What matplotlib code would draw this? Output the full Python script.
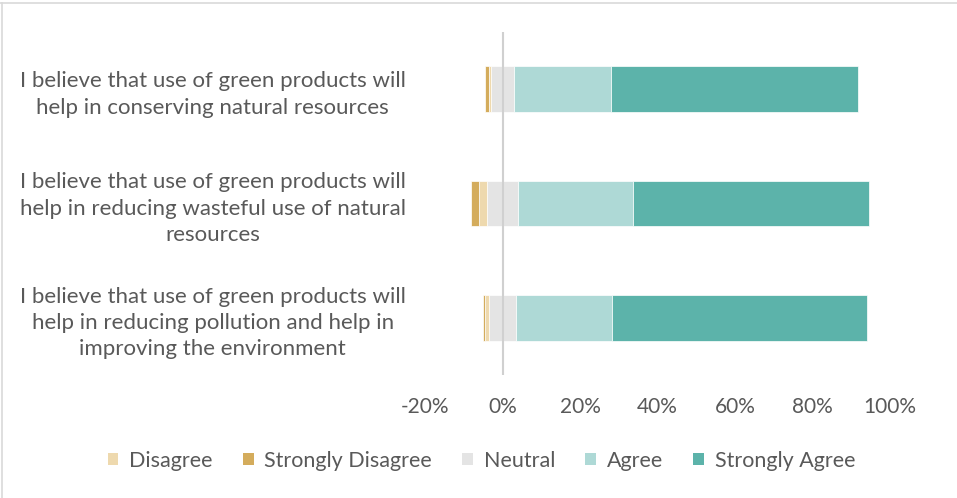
import matplotlib
matplotlib.use("Agg")
import matplotlib.pyplot as plt
from matplotlib.patches import Patch
import numpy as np

categories = [
    "I believe that use of green products will\nhelp in conserving natural resources",
    "I believe that use of green products will\nhelp in reducing wasteful use of natural\nresources",
    "I believe that use of green products will\nhelp in reducing pollution and help in\nimproving the environment",
]
disagree = [0.6, 2.1, 0.9]
strongly_disagree = [0.9, 2.1, 0.7]
neutral = [6.0, 7.8, 7.0]
agree = [25.0, 29.9, 24.8]
strongly_agree = [63.7, 60.8, 65.7]

series_names = ["Disagree", "Strongly Disagree", "Neutral", "Agree", "Strongly Agree"]
colors = {"Disagree": "#EED9AE", "Strongly Disagree": "#D4AC5C", "Neutral": "#E4E4E4",
          "Agree": "#AED9D6", "Strongly Agree": "#5CB3AA"}

plt.rcParams['font.family'] = ['Lato', 'DejaVu Sans']
text_color = "#595959"

fig = plt.figure(figsize=(9.57, 4.98), dpi=100)
ax = fig.add_axes([425/957, 1-375/498, (890-425)/957, (375-32)/498])

y = np.arange(len(categories))
h = 0.4
n = np.array(neutral)
d = np.array(disagree)
sd = np.array(strongly_disagree)
a = np.array(agree)
sa = np.array(strongly_agree)

kw = dict(height=h, edgecolor="white", linewidth=0.5)
ax.barh(y, n, left=-n/2, color=colors["Neutral"], **kw)
ax.barh(y, d, left=-n/2-d, color=colors["Disagree"], **kw)
ax.barh(y, sd, left=-n/2-d-sd, color=colors["Strongly Disagree"], **kw)
ax.barh(y, a, left=n/2, color=colors["Agree"], **kw)
ax.barh(y, sa, left=n/2+a, color=colors["Strongly Agree"], **kw)

ax.axvline(0, color="#D0D0D0", linewidth=1.5, zorder=5)
ax.set_xlim(-20, 100)
ax.set_ylim(len(categories)-0.5, -0.5)
ax.set_xticks([-20, 0, 20, 40, 60, 80, 100])
ax.set_xticklabels([f"{v}%" for v in [-20, 0, 20, 40, 60, 80, 100]], color=text_color, fontsize=15)
ax.set_yticks(y)
ax.set_yticklabels(categories, color=text_color, fontsize=16, multialignment="center", linespacing=1.4)
ax.tick_params(axis="both", length=0)
ax.tick_params(axis="y", pad=14)
ax.tick_params(axis="x", pad=16)
for s in ax.spines.values():
    s.set_visible(False)

handles = [Patch(facecolor=colors[s], edgecolor="none") for s in series_names]
fig.legend(handles, series_names, loc="center", bbox_to_anchor=(0.503, 1-461/498), ncol=5,
           frameon=False, fontsize=15.5, labelcolor=text_color, handlelength=0.5, handleheight=0.5,
           handletextpad=0.5, columnspacing=1.4)

# outer border (top and left)
fig.add_artist(plt.Line2D([0, 1], [1-3/498, 1-3/498], color="#D9D9D9", linewidth=1.2, transform=fig.transFigure))
fig.add_artist(plt.Line2D([1.5/957, 1.5/957], [0, 1-3/498], color="#D9D9D9", linewidth=1.2, transform=fig.transFigure))

fig.savefig("out.png", dpi=100)
